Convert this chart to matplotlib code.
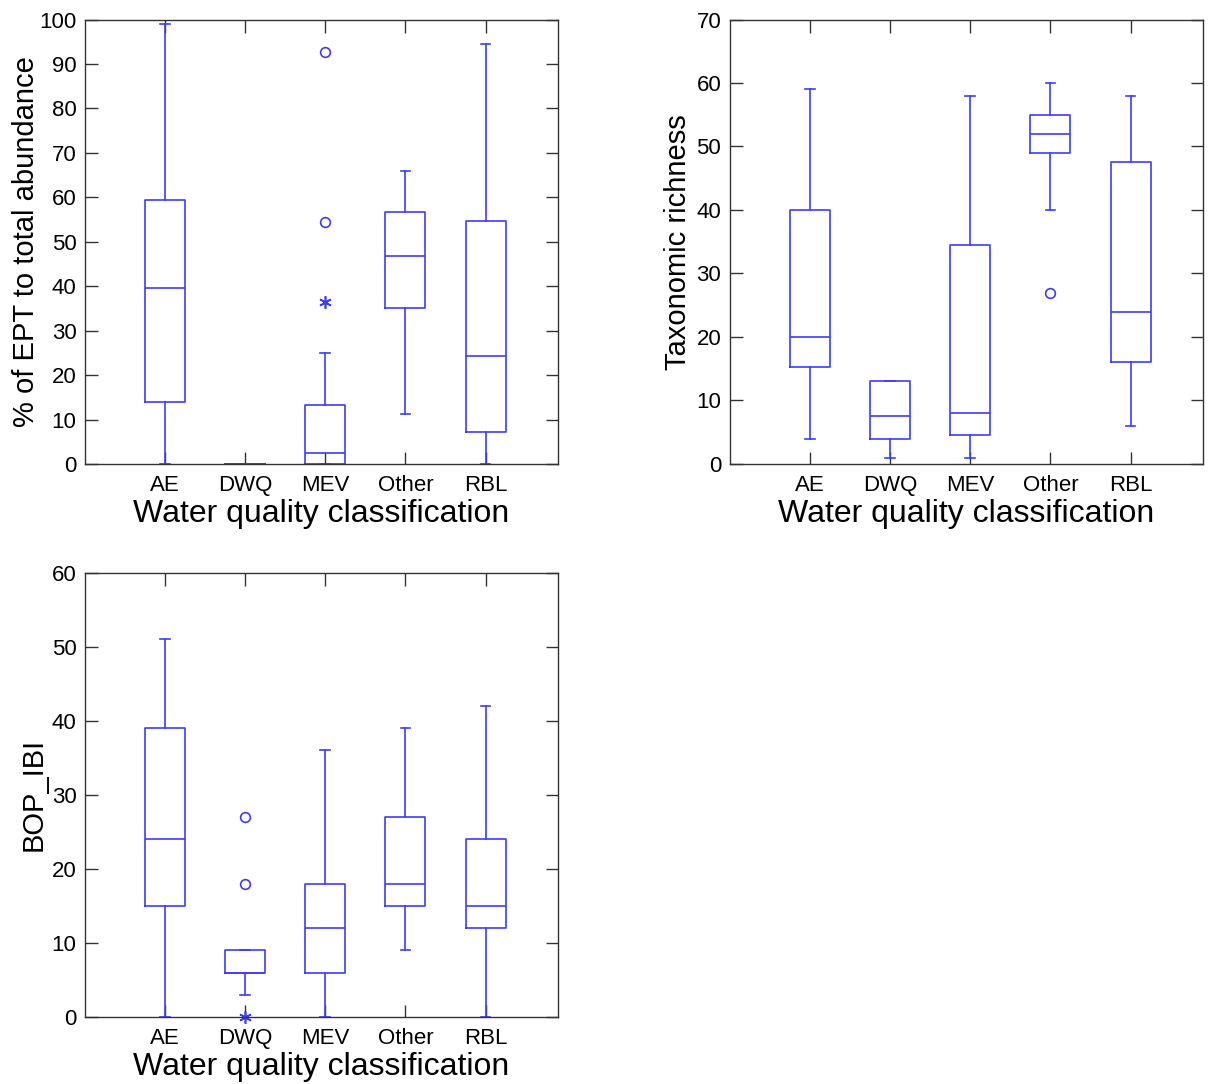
import numpy as np
import matplotlib.pyplot as plt

plt.rcParams['font.family'] = ['Liberation Sans', 'DejaVu Sans']

# categories
groups = ['AE', 'DWQ', 'MEV', 'Other', 'RBL']
xlab = 'Water quality classification'

# % of EPT to total abundance: low whisker, q1, median, q3, high whisker
ept_low = [0, 0, 0, 11.3, 0]
ept_q1 = [14, 0, 0, 35, 7.2]
ept_med = [39.5, 0, 2.5, 46.8, 24.4]
ept_q3 = [59.5, 0, 13.2, 56.8, 54.7]
ept_high = [99, 0, 25, 66, 94.4]
ept_out = {'MEV': [92.7, 54.5]}
ept_ext = {'MEV': [36.5]}

# Taxonomic richness
tax_low = [4, 1, 1, 40, 6]
tax_q1 = [15.2, 4, 4.5, 49, 16]
tax_med = [20, 7.5, 8, 52, 24]
tax_q3 = [40, 13, 34.5, 55, 47.5]
tax_high = [59, 13, 58, 60, 58]
tax_out = {'Other': [27]}
tax_ext = {}

# BOP_IBI
bop_low = [0, 3, 0, 9, 0]
bop_q1 = [15, 6, 6, 15, 12]
bop_med = [24, 6, 12, 18, 15]
bop_q3 = [39, 9, 18, 27, 24]
bop_high = [51, 9, 36, 39, 42]
bop_out = {'DWQ': [27, 18]}
bop_ext = {'DWQ': [0]}

blue = '#3c3cff'
dark = '#333333'


def panel(rect, low, q1, med, q3, high, outl, ext, ylabel, ymax, ylab_x):
    ax = fig.add_axes(rect)
    stats = []
    for i, g in enumerate(groups):
        stats.append({'label': g, 'whislo': low[i], 'q1': q1[i], 'med': med[i],
                      'q3': q3[i], 'whishi': high[i], 'fliers': []})
    pos = np.arange(1, len(groups) + 1)
    lp = dict(color=blue, linewidth=1.2)
    ax.bxp(stats, positions=pos, widths=0.5, showfliers=False,
           boxprops=lp, whiskerprops=lp, capprops=lp, medianprops=lp,
           capwidths=0.12, manage_ticks=False)
    for g, vals in outl.items():
        i = groups.index(g) + 1
        ax.plot([i] * len(vals), vals, 'o', ms=7, mfc='none', mec=blue, mew=1.2)
    for g, vals in ext.items():
        i = groups.index(g) + 1
        ax.plot([i] * len(vals), vals, ls='none', marker=(6, 2, 0), ms=9,
                color=blue, mew=1.2, clip_on=False)
    ax.set_xlim(0, 5.9)
    ax.set_ylim(0, ymax)
    ax.set_xticks(pos)
    ax.set_xticklabels(groups)
    ax.set_yticks(np.arange(0, ymax + 1, 10))
    ax.tick_params(direction='in', length=9, width=1, color=dark,
                   top=True, right=True, labelsize=16, pad=8)
    ax.tick_params(axis='y', pad=6)
    for s in ax.spines.values():
        s.set_color(dark)
        s.set_linewidth(1)
    ax.set_ylabel(ylabel, fontsize=21)
    ax.set_xlabel(xlab, fontsize=23)
    ax.yaxis.set_label_coords(ylab_x, 0.5)
    ax.xaxis.set_label_coords(0.5, -0.078)
    return ax


fig = plt.figure(figsize=(12.1, 10.84), dpi=100)
panel([0.070, 0.572, 0.391, 0.410], ept_low, ept_q1, ept_med, ept_q3, ept_high,
      ept_out, ept_ext, '% of EPT to total abundance', 100, -0.095)
panel([0.603, 0.572, 0.391, 0.410], tax_low, tax_q1, tax_med, tax_q3, tax_high,
      tax_out, tax_ext, 'Taxonomic richness', 70, -0.080)
panel([0.070, 0.0618, 0.391, 0.410], bop_low, bop_q1, bop_med, bop_q3, bop_high,
      bop_out, bop_ext, 'BOP_IBI', 60, -0.078)

fig.savefig('out.png', dpi=100)
